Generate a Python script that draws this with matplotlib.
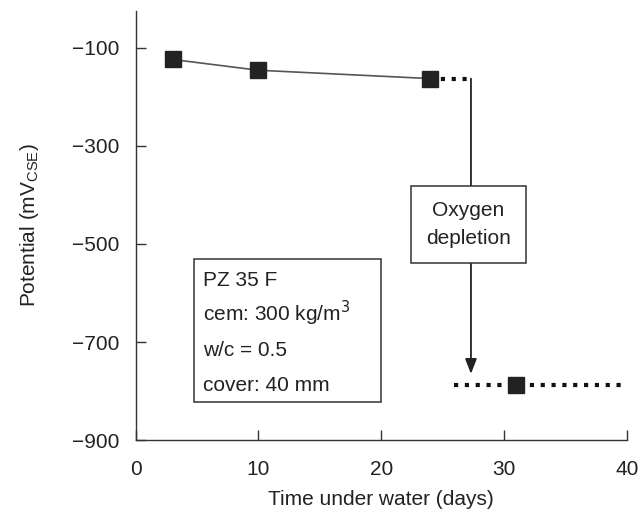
import matplotlib.pyplot as plt
from matplotlib.patches import Rectangle

plt.rcParams['font.family'] = ['Liberation Sans', 'DejaVu Sans']

# measured potentials before and after oxygen depletion
days = [3, 10, 24]
potential = [-124, -146, -163]
days_after = [31]
potential_after = [-787]

xticks = [0, 10, 20, 30, 40]
yticks = [-100, -300, -500, -700, -900]

info_lines = ['PZ 35 F', 'cem: 300 kg/m$^3$', 'w/c = 0.5', 'cover: 40 mm']

fig = plt.figure(figsize=(6.43, 5.19), dpi=100)
ax = fig.add_axes([0.211, 0.152, 0.764, 0.827])

ax.plot(days, potential, color='#555555', lw=1.2, zorder=2)
ax.plot(days, potential, 's', color='#222222', ms=11, zorder=3)

# dotted extension after last measurement
ax.plot([days[-1], 27.3], [potential[-1], potential[-1]], color='#111111',
        lw=3, ls=(0, (1, 1.6)), dash_capstyle='butt')
# dotted level after depletion
ax.plot([25.9, 40], [potential_after[0]] * 2, color='#111111',
        lw=3, ls=(0, (1, 1.6)), dash_capstyle='butt')
ax.plot(days_after, potential_after, 's', color='#222222', ms=11, zorder=3)

# arrow down
ax.annotate('', xy=(27.3, -765), xytext=(27.3, potential[-1]),
            arrowprops=dict(arrowstyle='-|>,head_length=0.9,head_width=0.35',
                            color='#222222', lw=1.3, shrinkA=0, shrinkB=0))
ax.text(27.1, -461, 'Oxygen\ndepletion', ha='center', va='center', fontsize=15,
        linespacing=1.6, color='#222222',
        bbox=dict(boxstyle='square,pad=0.72', fc='white', ec='#333333', lw=1.1))

# info box
ax.add_patch(Rectangle((4.77, -822), 15.23, 291, fc='white', ec='#333333',
                       lw=1.1, zorder=4))
for i, line in enumerate(info_lines):
    ax.text(5.5, -586 - i * 71.5, line, ha='left', va='baseline', fontsize=15,
            color='#222222', zorder=5)

ax.set_xlim(0, 40)
ax.set_ylim(-900, -25)
ax.set_xticks(xticks)
ax.set_yticks(yticks)
ax.set_yticklabels(['\u2212' + str(-t) for t in yticks])
ax.spines['top'].set_visible(False)
ax.spines['right'].set_visible(False)
for s in ['left', 'bottom']:
    ax.spines[s].set_color('#333333')
    ax.spines[s].set_linewidth(1.0)
ax.tick_params(direction='in', length=7, width=1.0, color='#333333',
               labelsize=15, labelcolor='#222222')
ax.tick_params(axis='x', pad=14)
ax.tick_params(axis='y', pad=12)
ax.set_xlabel('Time under water (days)', fontsize=15, color='#222222', labelpad=8)
ax.set_ylabel('Potential (mV$_{\\mathregular{CSE}}$)', fontsize=15,
              color='#222222', labelpad=22)

fig.savefig('out.png', dpi=100)
